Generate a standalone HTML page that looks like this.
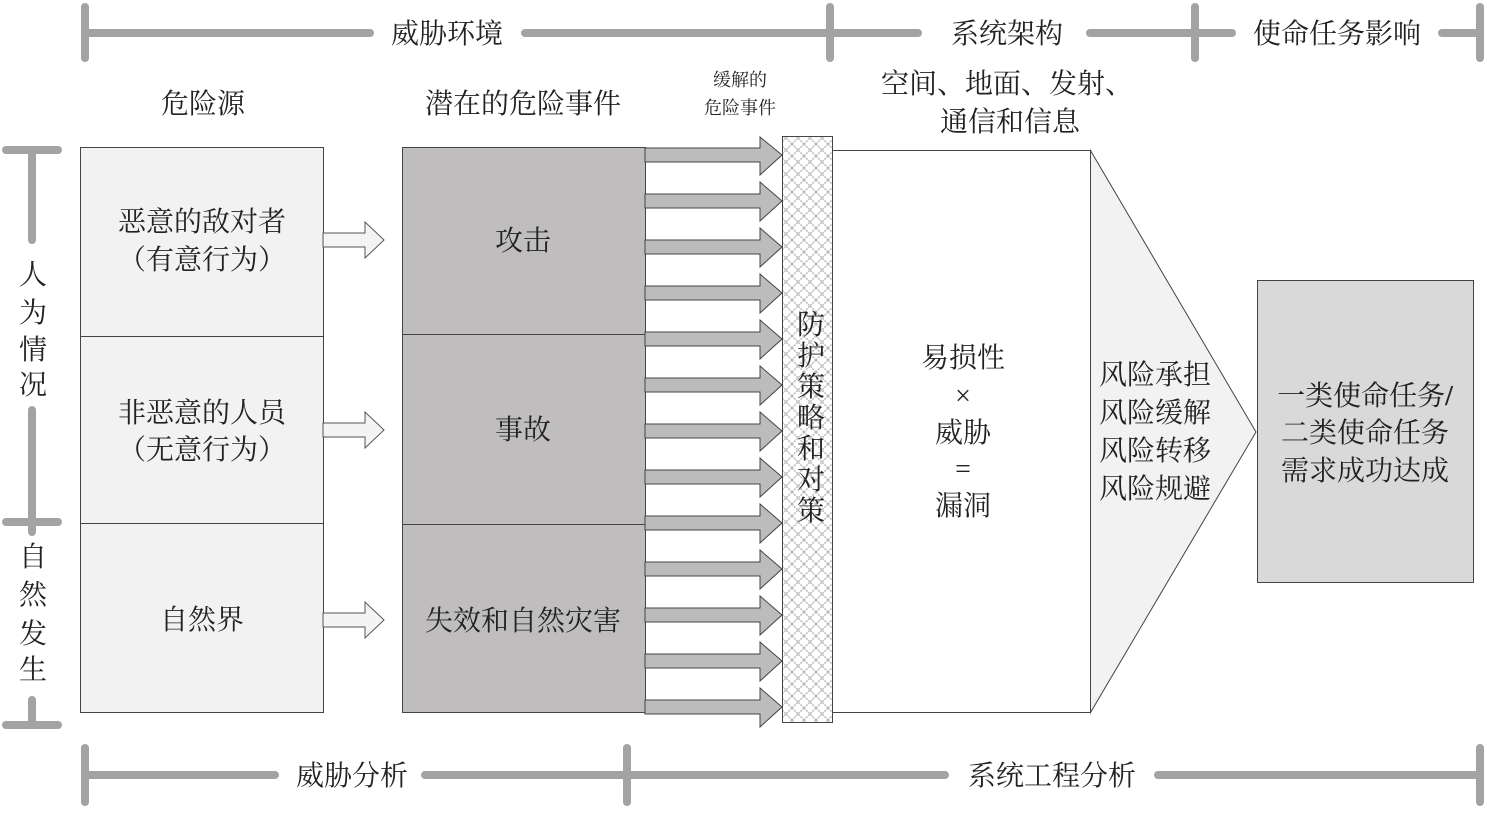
<!DOCTYPE html>
<html><head><meta charset="utf-8"><style>
body{margin:0;background:#fff}
svg text{font-family:"Liberation Serif","Noto Serif CJK SC","Noto Sans CJK SC",serif;fill:#222}
</style></head><body>
<svg width="1487" height="808" viewBox="0 0 1487 808" xmlns="http://www.w3.org/2000/svg">
<defs>
<pattern id="hatch" width="12" height="12" patternUnits="userSpaceOnUse">
<rect width="12" height="12" fill="#fff"/>
<path d="M0 0L12 12M12 0L0 12" stroke="#bbb" stroke-width="1.5" stroke-dasharray="2 1"/>
</pattern>
</defs>
<g stroke="#a3a3a3" stroke-width="8" stroke-linecap="round" fill="none">
<line x1="85" y1="33" x2="370" y2="33"/><line x1="525" y1="33" x2="918" y2="33"/>
<line x1="1090" y1="33" x2="1232" y2="33"/><line x1="1442" y1="33" x2="1480" y2="33"/>
<line x1="85" y1="7" x2="85" y2="58"/><line x1="830" y1="7" x2="830" y2="58"/>
<line x1="1195" y1="7" x2="1195" y2="58"/><line x1="1480" y1="7" x2="1480" y2="58"/>
<line x1="85" y1="775" x2="275" y2="775"/><line x1="425" y1="775" x2="945" y2="775"/>
<line x1="1158" y1="775" x2="1480" y2="775"/>
<line x1="85" y1="748" x2="85" y2="802"/><line x1="627" y1="748" x2="627" y2="802"/>
<line x1="1480" y1="748" x2="1480" y2="802"/>
<line x1="32" y1="150" x2="32" y2="240"/><line x1="32" y1="410" x2="32" y2="532"/>
<line x1="32" y1="700" x2="32" y2="725"/>
<line x1="6" y1="150" x2="58" y2="150"/><line x1="6" y1="522" x2="58" y2="522"/>
<line x1="6" y1="725" x2="58" y2="725"/>
</g>
<g font-size="28" text-anchor="middle">
<text x="447" y="43">威胁环境</text>
<text x="1007" y="43">系统架构</text>
<text x="1337" y="43">使命任务影响</text>
<text x="352" y="785">威胁分析</text>
<text x="1052" y="785">系统工程分析</text>
<text x="203" y="113">危险源</text>
<text x="523" y="113">潜在的危险事件</text>
<text x="1007" y="93">空间、地面、发射、</text>
<text x="1010" y="131">通信和信息</text>
<text x="33" y="284">人</text><text x="33" y="322">为</text><text x="33" y="359">情</text><text x="33" y="394">况</text>
<text x="33" y="566">自</text><text x="33" y="604">然</text><text x="33" y="643">发</text><text x="33" y="679">生</text>
</g>
<g font-size="18" text-anchor="middle">
<text x="740" y="86">缓解的</text><text x="740" y="114">危险事件</text>
</g>
<rect x="80.5" y="147.5" width="243" height="565" fill="#f2f2f2" stroke="#444"/>
<line x1="80" y1="336.5" x2="323" y2="336.5" stroke="#444"/>
<line x1="80" y1="523.5" x2="323" y2="523.5" stroke="#444"/>
<rect x="402.5" y="147.5" width="243" height="565" fill="#bfbdbe" stroke="#444"/>
<line x1="402" y1="334.5" x2="645" y2="334.5" stroke="#444"/>
<line x1="402" y1="524.5" x2="645" y2="524.5" stroke="#444"/>
<g fill="#f4f4f4" stroke="#555">
<path d="M323 233H365V222L384 240L365 258V247H323Z"/>
<path d="M323 423H365V412L384 430L365 448V437H323Z"/>
<path d="M323 613H365V602L384 620L365 638V627H323Z"/>
</g>
<g fill="#bcbcbc" stroke="#444">
<path d="M645 148H760V137L782 155L760 175V162H645Z"/>
<path d="M645 194H760V182L782 201L760 221V208H645Z"/>
<path d="M645 240H760V228L782 247L760 267V254H645Z"/>
<path d="M645 286H760V274L782 293L760 313V300H645Z"/>
<path d="M645 332H760V320L782 339L760 359V346H645Z"/>
<path d="M645 378H760V366L782 385L760 405V392H645Z"/>
<path d="M645 424H760V412L782 431L760 451V438H645Z"/>
<path d="M645 470H760V458L782 477L760 497V484H645Z"/>
<path d="M645 516H760V504L782 523L760 543V530H645Z"/>
<path d="M645 562H760V550L782 569L760 589V576H645Z"/>
<path d="M645 608H760V596L782 615L760 635V622H645Z"/>
<path d="M645 654H760V642L782 661L760 681V668H645Z"/>
<path d="M645 700H760V688L782 707L760 727V714H645Z"/>
</g>
<rect x="782.5" y="136.5" width="50" height="586" fill="url(#hatch)" stroke="#444"/>
<rect x="832.5" y="150.5" width="258" height="562" fill="#fff" stroke="#444"/>
<path d="M1090.5 150.5L1256 432L1090.5 712.5Z" fill="#f2f2f2" stroke="#444"/>
<rect x="1257.5" y="280.5" width="216" height="302" fill="#d9d9d9" stroke="#444"/>
<g font-size="28" text-anchor="middle">
<text x="202" y="231">恶意的敌对者</text>
<text x="202" y="269">（有意行为）</text>
<text x="202" y="422">非恶意的人员</text>
<text x="202" y="459">（无意行为）</text>
<text x="202" y="629">自然界</text>
<text x="523" y="250">攻击</text>
<text x="523" y="439">事故</text>
<text x="523" y="630">失效和自然灾害</text>
<text x="811" y="334">防</text><text x="811" y="365">护</text><text x="811" y="396">策</text>
<text x="811" y="427">略</text><text x="811" y="458">和</text><text x="811" y="489">对</text><text x="811" y="520">策</text>
<text x="963" y="367">易损性</text>
<text x="963" y="405">×</text>
<text x="963" y="442">威胁</text>
<text x="963" y="478">=</text>
<text x="963" y="515">漏洞</text>
<text x="1155" y="384">风险承担</text>
<text x="1155" y="422">风险缓解</text>
<text x="1155" y="460">风险转移</text>
<text x="1155" y="498">风险规避</text>
<text x="1365" y="405">一类使命任务<tspan font-weight="bold">/</tspan></text>
<text x="1365" y="442">二类使命任务</text>
<text x="1365" y="480">需求成功达成</text>
</g>
</svg>
</body></html>
